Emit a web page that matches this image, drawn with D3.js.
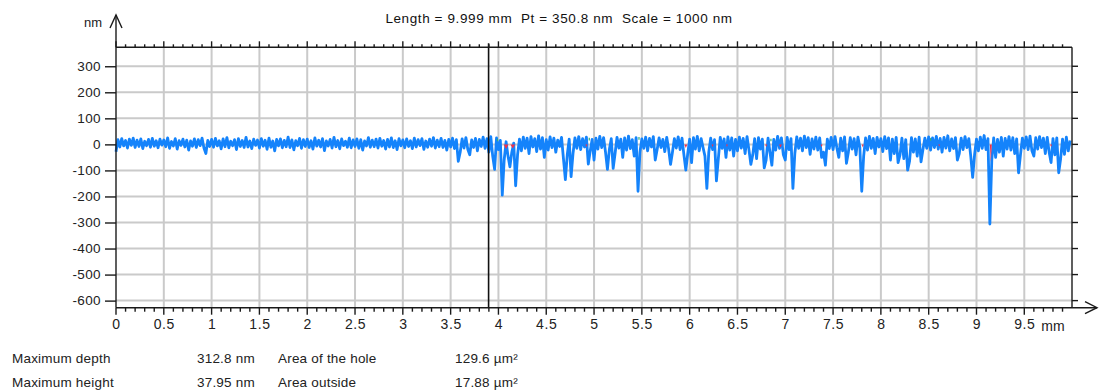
<!DOCTYPE html>
<html>
<head>
<meta charset="utf-8">
<script src="https://cdn.jsdelivr.net/npm/d3@7"></script>
<style>
  html, body { margin: 0; padding: 0; background: #fff; }
  svg { display: block; font-family: "Liberation Sans", Arial, sans-serif; }
</style>
</head>
<body>
<svg id="chart"></svg>
<script>
// Profile step along the scan (mm) and the sampled heights (nm), one row per 0.5 mm
const stepMm = 0.02
const profileNm = [
  -28, 18, -10, 22, -6, 15, -14, 20, -4, 24, -12, 16, -8, 21, -16, 12, -5, 19, -11, 23, -7, 14, -13, 20, -3,
  17, -9, 25, -15, 11, -6, 22, -18, 14, -4, 20, -10, 16, -22, 13, -7, 21, -12, 18, -5, 24, -14, -35, 15, -8,
  19, -11, 23, -6, 14, -17, 21, -9, 26, -13, 12, -5, 18, -20, 22, -8, 15, -12, 27, -10, 13, -16, 20, -4, 17,
  -14, 22, -7, 16, -19, 24, -11, 13, -25, 19, -6, 21, -13, 15, -9, 28, -12, 17, -21, 14, -5, 23, -15, 18, -8,
  20, -12, 14, -18, 25, -7, 16, -10, 22, -24, 13, -6, 19, -14, 27, -9, 15, -17, 21, -5, 12, -11, 24, -13, 17,
  -8, 21, -15, 18, -22, 13, -6, 26, -11, 16, -9, 20, -14, 23, -7, 15, -18, 19, -10, 25, -12, 14, -20, 22, -6,
  17, -13, 21, -8, 14, -16, 24, -10, 18, -5, 22, -19, 13, -11, 20, -7, 26, -14, 16, -9, 23, -12, 15, -22, 19,
  -10, 24, -16, 18, -65, -30, 21, -14, 26, -20, -40, 17, -12, 23, -25, 19, -8, 28, -15, 22, -30, 30, -45, -96, 25,
  -20, 15, -195, -60, 10, -45, -86, -30, 5, -159, -40, 20, -25, 28, -15, 24, -35, 30, -10, 22, -28, 33, -18, 26, -50,
  18, -22, 29, -12, 24, -30, 16, -8, 27, -55, -135, -40, 20, -124, -35, 25, -15, 30, -20, 22, -10, 28, -76, -25, 19,
  -60, 24, -18, 31, -12, 26, -30, -96, -20, 22, -92, -35, 27, -14, 20, -50, 25, -22, 32, -16, 18, -45, 26, -180, -30,
  21, -15, 28, -25, 23, -10, 30, -60, -20, 25, -12, 19, -28, 27, -18, -77, -30, 22, -14, 29, -20, 24, -40, -99, -35,
  20, -70, 26, -18, 31, -25, 22, -12, -45, -169, -30, 24, -20, 18, -140, -55, 27, -15, 21, -50, 29, -22, 25, -45, 19,
  -25, 28, -14, 23, -35, 30, -20, -77, -40, 22, -55, 26, -18, 20, -90, -60, 24, -30, -80, 19, -22, 31, -15, 25, -40,
  -60, 27, -20, 22, -169, -35, 29, -15, 24, -25, 32, -12, 26, -38, 21, -18, 28, -22, 25, -50, -30, -80, 20, -16, 27,
  -20, 30, -14, -50, 24, -25, 29, -73, -30, 26, -18, 22, -40, 28, -12, -180, -45, 25, -22, 31, -15, 23, -35, 27, -10,
  22, -28, 30, -16, 25, -60, 20, -35, 27, -70, -40, 24, -55, 18, -99, -65, 26, -30, 21, -45, 28, -67, -20, 24, -15,
  29, -22, 25, -12, 31, -18, 23, -30, 27, -14, 33, -25, 21, -16, 26, -60, -35, 24, -20, 30, -12, 22, -45, -127, -40,
  20, -25, 28, -15, 34, -20, 22, -306, -60, 25, -50, 19, -30, 27, -45, 23, -18, 30, -22, 26, -35, 21, -109, -40, 24,
  -15, 29, -20, 32, -25, -45, 26, -18, 30, -12, 24, -35, 27, -30, -70, 22, -40, 25, -109, -55, 20, -38, 28, -25, 15
]

// Small hole patches (red) left visible below zero: centre (mm), width (mm), depth (nm)
const holeX = [4.08, 4.15, 4.92, 5.96, 6.24, 6.39, 6.80, 6.95, 7.38, 7.81, 8.61, 9.15, 9.78]
const holeW = [0.05, 0.05, 0.02, 0.03, 0.02, 0.02, 0.02, 0.03, 0.02, 0.02, 0.02, 0.02, 0.02]
const holeDepth = [-18, -16, -10, -14, -10, -10, -10, -12, -10, -12, -8, -70, -10]

// Outside patches (green) peeking above the band
const outsideX = [3.99, 4.95, 5.47, 6.85, 8.52]
const outsideTop = [22, 25, 28, 22, 24]

const xTicks = d3.range(0, 10, 0.5)
const xMinorTicks = d3.range(0, 9.95, 0.1)
const yTicks = [300, 200, 100, 0, -100, -200, -300, -400, -500, -600]
const cursorMm = 3.897

const title = 'Length = 9.999 mm  Pt = 350.8 nm  Scale = 1000 nm'
const statLabels = [['Maximum depth', '312.8 nm', 'Area of the hole', '129.6 µm²'],
                    ['Maximum height', '37.95 nm', 'Area outside', '17.88 µm²']]

const width = 1100
const height = 390
const plot = { left: 116, right: 1072, top: 47.3, bottom: 307.7 }
const font = '"Liberation Sans", Arial, sans-serif'

const svg = d3.select('#chart')
  .attr('width', width)
  .attr('height', height)

const x = d3.scaleLinear().domain([0, 9.999]).range([plot.left, plot.right])
const y = d3.scaleLinear().domain([-627.2, 372.8]).range([plot.bottom, plot.top])

// grid
const grid = svg.append('g').attr('stroke', '#cacaca').attr('stroke-width', 2)
grid.selectAll('.vgrid')
  .data(xTicks.filter(d => d > 0))
  .enter().append('line')
    .attr('x1', d => x(d)).attr('x2', d => x(d))
    .attr('y1', plot.top).attr('y2', plot.bottom)
grid.selectAll('.hgrid')
  .data(yTicks)
  .enter().append('line')
    .attr('x1', plot.left).attr('x2', plot.right)
    .attr('y1', d => y(d)).attr('y2', d => y(d))

// profile
const profile = profileNm.map((v, i) => [i * stepMm, v])
const line = d3.line()
  .x(d => x(d[0]))
  .y(d => y(d[1]))

svg.append('path')
  .datum(profile)
  .attr('d', line)
  .attr('fill', 'none')
  .attr('stroke', '#1483fb')
  .attr('stroke-width', 2.8)
  .attr('stroke-linejoin', 'round')

// hole / outside patches
svg.append('g').selectAll('path')
  .data(holeX)
  .enter().append('path')
    .attr('d', (d, i) => `M${x(d - holeW[i] / 2)},${y(0)}L${x(d + holeW[i] / 2)},${y(0)}L${x(d)},${y(holeDepth[i])}Z`)
    .attr('fill', '#f0304a')

svg.append('g').selectAll('line')
  .data(outsideX)
  .enter().append('line')
    .attr('x1', d => x(d)).attr('x2', d => x(d))
    .attr('y1', (d, i) => y(outsideTop[i])).attr('y2', (d, i) => y(outsideTop[i] - 10))
    .attr('stroke', '#2fae7a')
    .attr('stroke-width', 1.2)

// cursor
svg.append('line')
  .attr('x1', x(cursorMm)).attr('x2', x(cursorMm))
  .attr('y1', plot.top - 4).attr('y2', plot.bottom)
  .attr('stroke', '#111')
  .attr('stroke-width', 1.6)

// frame and axes
const axisColor = '#1a1a1a'
const frame = svg.append('g').attr('stroke', axisColor).attr('fill', 'none').attr('stroke-width', 1.4)
frame.append('line').attr('x1', plot.left).attr('x2', plot.right).attr('y1', plot.top).attr('y2', plot.top)
frame.append('line').attr('x1', plot.right).attr('x2', plot.right).attr('y1', plot.top).attr('y2', plot.bottom)
frame.append('line').attr('x1', plot.left).attr('x2', plot.left).attr('y1', 15).attr('y2', plot.bottom)
frame.append('line').attr('x1', plot.left).attr('x2', 1097).attr('y1', plot.bottom).attr('y2', plot.bottom)
frame.append('path').attr('d', `M${plot.left - 6},28L${plot.left},15L${plot.left + 6},28`)
frame.append('path').attr('d', `M1085,${plot.bottom - 6}L1097,${plot.bottom}L1085,${plot.bottom + 6}`)

// top ticks (up) and bottom ticks (down)
const isMajor = d => Math.abs(d * 2 - Math.round(d * 2)) < 1e-6
frame.selectAll('.tt')
  .data(xMinorTicks)
  .enter().append('line')
    .attr('x1', d => x(d)).attr('x2', d => x(d))
    .attr('y1', plot.top).attr('y2', d => plot.top - (isMajor(d) ? 6 : 3))
frame.selectAll('.bt')
  .data(xMinorTicks)
  .enter().append('line')
    .attr('x1', d => x(d)).attr('x2', d => x(d))
    .attr('y1', plot.bottom).attr('y2', d => plot.bottom + (isMajor(d) ? 7 : 4))

// right ticks
frame.selectAll('.rt')
  .data(yTicks)
  .enter().append('line')
    .attr('x1', plot.right).attr('x2', plot.right + 6)
    .attr('y1', d => y(d)).attr('y2', d => y(d))

// left axis
const yAxis = d3.axisLeft(y)
  .tickValues(yTicks)
  .tickSize(11)
  .tickPadding(4)
  .tickFormat(d => String(d))
svg.append('g')
  .attr('transform', `translate(${plot.left}, 0)`)
  .call(yAxis)
  .call(g => g.select('.domain').remove())
  .call(g => g.selectAll('line').attr('stroke', axisColor).attr('stroke-width', 1.4))
  .call(g => g.selectAll('text').attr('fill', '#222').attr('font-size', 13.5)
    .attr('letter-spacing', 0.4).attr('font-family', font))

// bottom labels
const xAxis = d3.axisBottom(x)
  .tickValues(xTicks)
  .tickSize(0)
  .tickPadding(11)
  .tickFormat(d3.format('~g'))
svg.append('g')
  .attr('transform', `translate(0, ${plot.bottom})`)
  .call(xAxis)
  .call(g => g.select('.domain').remove())
  .call(g => g.selectAll('text').attr('fill', '#222').attr('font-size', 14)
    .attr('letter-spacing', 0.6).attr('font-family', font))

svg.append('text')
  .attr('x', x(9.5) + 17).attr('y', plot.bottom + 23)
  .attr('font-size', 14).attr('fill', '#222')
  .text('mm')

svg.append('text')
  .attr('x', 102).attr('y', 27)
  .attr('text-anchor', 'end')
  .attr('font-size', 13).attr('fill', '#222')
  .text('nm')

svg.append('text')
  .attr('x', 559).attr('y', 23)
  .attr('text-anchor', 'middle')
  .attr('font-size', 13.5).attr('fill', '#111')
  .attr('letter-spacing', 0.6)
  .style('white-space', 'pre')
  .text(title)

// statistics below the chart
const statX = [12, 197, 278, 455]
statLabels.forEach((row, r) => {
  svg.append('g').selectAll('text')
    .data(row)
    .enter().append('text')
      .attr('x', (d, i) => statX[i])
      .attr('y', 363 + r * 23.5)
      .attr('font-size', 13.5).attr('fill', '#222')
      .attr('letter-spacing', 0.2)
      .text(d => d)
})
</script>
</body>
</html>
